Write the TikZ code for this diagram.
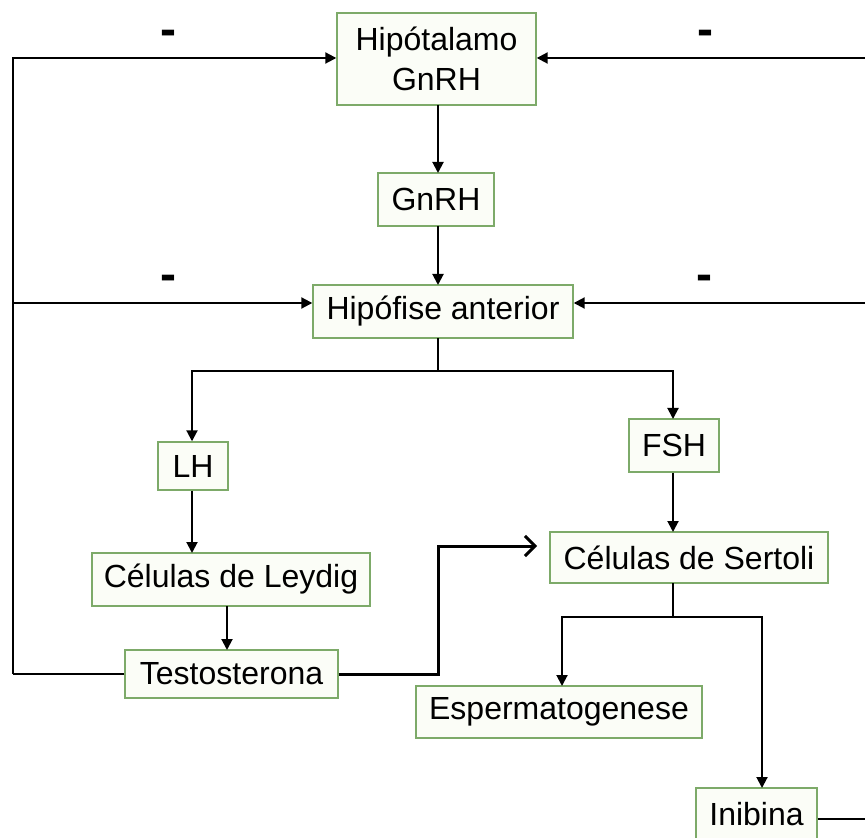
\documentclass[tikz,border=0pt]{standalone}
\usepackage{fontspec}
\setmainfont{Liberation Sans}
\usetikzlibrary{arrows.meta}
\definecolor{boxgreen}{RGB}{125,170,105}
\definecolor{boxfill}{RGB}{251,253,247}

\begin{document}
\begin{tikzpicture}[
    x=0.5pt, y=-0.5pt,
    block/.style={rectangle, draw=boxgreen, fill=boxfill, line width=0.7pt,
        inner sep=0pt, align=center, font=\fontsize{16}{20}\selectfont},
    arrow/.style={-{Triangle[length=5.5pt,width=5.5pt]}, line width=1pt},
    link/.style={line width=1pt},
    sign/.style={inner sep=0pt, font=\fontsize{24}{24}\selectfont\bfseries}
]
    \useasboundingbox (0,0) rectangle (865,838);
    \clip (0,0) rectangle (865,838);

    \node[block, minimum width=99.5pt, minimum height=46pt] (hipo) at (436.5,59) {Hipótalamo\\GnRH};
    \node[block, minimum width=58pt, minimum height=26.5pt] (gnrh) at (436,199.5) {GnRH};
    \node[block, minimum width=130pt, minimum height=26.5pt] (hipof) at (443,311.5) {Hipófise anterior};
    \node[block, minimum width=35pt, minimum height=24pt] (lh) at (193,466) {LH};
    \node[block, minimum width=45pt, minimum height=26.5pt] (fsh) at (674,445.5) {FSH};
    \node[block, minimum width=139pt, minimum height=26.5pt] (leydig) at (231,579.5) {Células de Leydig};
    \node[block, minimum width=139pt, minimum height=25.5pt] (sertoli) at (689,557.5) {Células de Sertoli};
    \node[block, minimum width=106.5pt, minimum height=24pt] (testo) at (231.5,674) {Testosterona};
    \node[block, minimum width=143pt, minimum height=26pt] (esperm) at (559,712) {Espermatogenese};
    \node[block, minimum width=60.5pt, minimum height=26pt] (inib) at (756.5,814) {Inibina};

    % sinais de feedback negativo
    \node[sign] (minus1) at (168,38) {-};
    \node[sign] (minus2) at (705,38) {-};
    \node[sign] (minus3) at (168,283) {-};
    \node[sign] (minus4) at (704,283) {-};

    % eixo central
    \draw[arrow] (438,105) -- (438,173);
    \draw[arrow] (438,226) -- (438,285);
    \coordinate (hsplit) at (438,371);
    \draw[link] (438,338) -- (hsplit);
    \draw[arrow] (hsplit) -| (lh.north -| 192,0);
    \draw[arrow] (hsplit) -| (673,419);
    \draw[arrow] (lh.south -| 192,0) -- (192,553);
    \draw[arrow] (227,606) -- (227,650);
    \draw[arrow] (fsh.south -| 673,0) -- (673,532);

    % ramos das celulas de Sertoli
    \coordinate (ssplit) at (673,617);
    \draw[link] (673,583) -- (ssplit);
    \draw[arrow] (ssplit) -| (562,686);
    \draw[arrow] (ssplit) -| (762,788);

    % testosterona -> Sertoli
    \draw[line width=1.5pt, -{Straight Barb[length=5pt,width=10pt]}]
        (testo.east) -| (438,546) -- (537,546);

    % retroalimentacao esquerda
    \coordinate (lbus) at (13,674);
    \draw[link] (testo.west) -- (lbus);
    \draw[arrow] (lbus) |- (hipo.west |- 0,58);
    \draw[arrow] (13,303) -- (hipof.west |- 0,303);

    % retroalimentacao direita
    \coordinate (rbus) at (880,819);
    \draw[link] (inib.east |- 0,819) -- (rbus);
    \draw[arrow] (rbus) |- (hipo.east |- 0,58);
    \draw[arrow] (880,303) -- (hipof.east |- 0,303);
\end{tikzpicture}
\end{document}
